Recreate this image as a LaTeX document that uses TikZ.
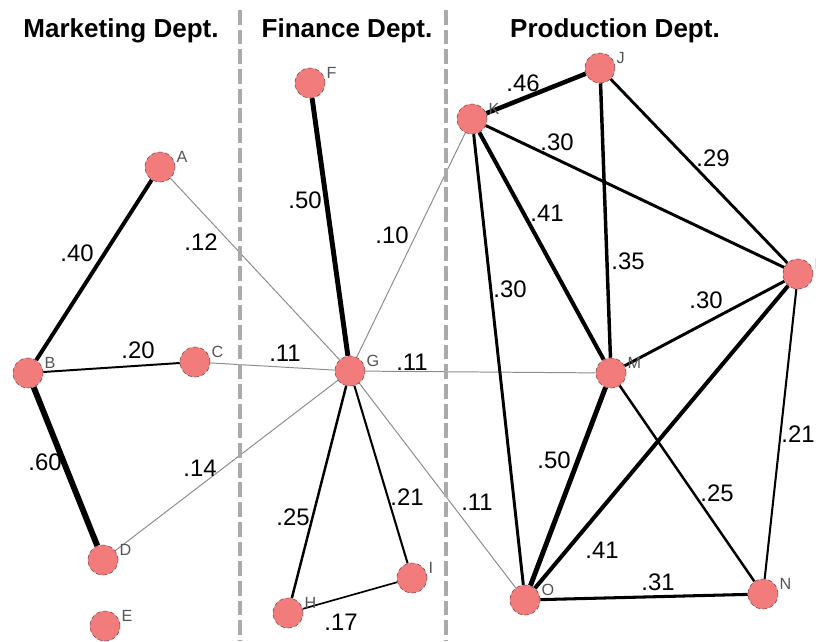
\documentclass[tikz,border=0pt]{standalone}
\usepackage{fontspec}
\setmainfont{Liberation Sans}
\usepackage{tikz}
\usetikzlibrary{backgrounds}
\definecolor{nodeRed}{HTML}{F27B7B}
\definecolor{nodeRim}{HTML}{7A4A4A}
\definecolor{divGray}{HTML}{AAAAAA}
\definecolor{tagGray}{HTML}{555555}

\begin{document}
\begin{tikzpicture}[x=0.025cm, y=-0.025cm,
  emp/.style={circle, minimum size=0.75cm, inner sep=0pt, fill=nodeRed, draw=nodeRim, densely dashed, line width=0.4pt, label distance=0pt},
  tag/.style={font=\fontsize{11.5}{13}\selectfont, text=tagGray, inner sep=1pt},
  dept/.style={font=\fontsize{18.5}{21}\selectfont\bfseries, anchor=base, inner sep=0pt},
  wlab/.style={font=\fontsize{17}{20}\selectfont, inner sep=0pt},
  tie/.style={line width=#1*7pt, black},
  weak/.style={line width=0.7pt, draw=black!45},
  divider/.style={divGray, line width=2.6pt, dash pattern=on 10.5pt off 3.5pt}
]
  \useasboundingbox (0,0) rectangle (816,641);

  \node[dept] (mkt) at (121,37) {Marketing Dept.};
  \node[dept] (fin) at (347,37) {Finance Dept.};
  \node[dept] (prd) at (615,37) {Production Dept.};

  \node[emp, label={[tag]10:A}] (A) at (160,167) {};
  \node[emp, label={[tag]10:B}] (B) at (28,373) {};
  \node[emp, label={[tag]10:C}] (C) at (195,362) {};
  \node[emp, label={[tag]10:D}] (D) at (103,560) {};
  \node[emp, label={[tag]10:E}] (E) at (105,626) {};
  \node[emp, label={[tag]10:F}] (F) at (310,83) {};
  \node[emp, label={[tag]10:G}] (G) at (350,371) {};
  \node[emp, label={[tag]10:H}] (H) at (288,613) {};
  \node[emp, label={[tag]10:I}] (I) at (412,578) {};
  \node[emp, label={[tag]10:J}] (J) at (600,68) {};
  \node[emp, label={[tag]10:K}] (K) at (472,119) {};
  \node[emp, label={[tag]10:L}] (L) at (798,274) {};
  \node[emp, label={[tag]10:M}] (M) at (611,373) {};
  \node[emp, label={[tag]10:N}] (N) at (763,594) {};
  \node[emp, label={[tag]10:O}] (O) at (525,600) {};

  \begin{scope}[on background layer]
    \draw[tie=0.40] (A) -- (B);
    \draw[tie=0.20] (B) -- (C);
    \draw[tie=0.60] (B) -- (D);
    \draw[weak] (A) -- (G);
    \draw[weak] (C) -- (G);
    \draw[weak] (D) -- (G);
    \draw[tie=0.50] (F) -- (G);
    \draw[weak] (G) -- (K);
    \draw[weak] (G) -- (M);
    \draw[weak] (G) -- (O);
    \draw[tie=0.25] (G) -- (H);
    \draw[tie=0.21] (G) -- (I);
    \draw[tie=0.17] (H) -- (I);
    \draw[tie=0.46] (K) -- (J);
    \draw[tie=0.30] (K) -- (L);
    \draw[tie=0.29] (J) -- (L);
    \draw[tie=0.35] (J) -- (M);
    \draw[tie=0.41] (K) -- (M);
    \draw[tie=0.30] (K) -- (O);
    \draw[tie=0.30] (L) -- (M);
    \draw[tie=0.41] (L) -- (O);
    \draw[tie=0.21] (L) -- (N);
    \draw[tie=0.50] (M) -- (O);
    \draw[tie=0.25] (M) -- (N);
    \draw[tie=0.31] (O) -- (N);
  \end{scope}

  \draw[divider] (240,10) -- (240,641);
  \draw[divider] (446,10) -- (446,641);

  \node[wlab] (wAB) at (77,253) {.40};
  \node[wlab] (wAG) at (201,242) {.12};
  \node[wlab] (wBC) at (138,350) {.20};
  \node[wlab] (wBD) at (45,462) {.60};
  \node[wlab] (wDG) at (200,468) {.14};
  \node[wlab] (wFG) at (305,200) {.50};
  \node[wlab] (wGK) at (392,235) {.10};
  \node[wlab] (wCG) at (285,353) {.11};
  \node[wlab] (wGM) at (412,362) {.11};
  \node[wlab] (wGH) at (293,517) {.25};
  \node[wlab] (wGI) at (407,497) {.21};
  \node[wlab] (wGO) at (477,502) {.11};
  \node[wlab] (wHI) at (341,622) {.17};
  \node[wlab] (wKJ) at (523,83) {.46};
  \node[wlab] (wKL) at (557,142) {.30};
  \node[wlab] (wJL) at (713,158) {.29};
  \node[wlab] (wKM) at (547,213) {.41};
  \node[wlab] (wJM) at (628,261) {.35};
  \node[wlab] (wKO) at (510,289) {.30};
  \node[wlab] (wLM) at (706,300) {.30};
  \node[wlab] (wMO) at (554,460) {.50};
  \node[wlab] (wMN) at (717,493) {.25};
  \node[wlab] (wLO) at (602,550) {.41};
  \node[wlab] (wON) at (658,582) {.31};
  \node[wlab] (wLN) at (798,434) {.21};
\end{tikzpicture}
\end{document}
